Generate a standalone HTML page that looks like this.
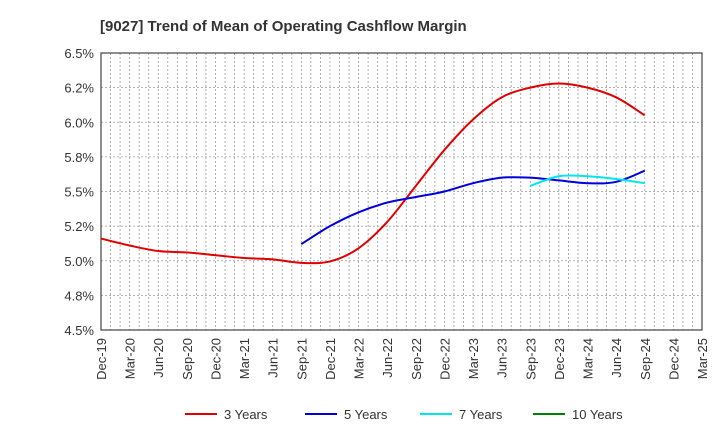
<!DOCTYPE html>
<html><head><meta charset="utf-8"><style>
body{margin:0;background:#fff;font-family:"Liberation Sans",Arial,sans-serif}
svg text{font-family:"Liberation Sans",Arial,sans-serif}
</style></head><body>
<svg id="chart" width="720" height="440" xmlns="http://www.w3.org/2000/svg">
<text x="100" y="31" font-size="15" font-weight="bold" fill="#333">[9027]  Trend of Mean of Operating Cashflow Margin</text>
<g id="grid"></g><g id="axes"></g><g id="series"></g><g id="legend"></g>
</svg>
<script>
const xLabels=["Dec-19","Mar-20","Jun-20","Sep-20","Dec-20","Mar-21","Jun-21","Sep-21","Dec-21","Mar-22","Jun-22","Sep-22","Dec-22","Mar-23","Jun-23","Sep-23","Dec-23","Mar-24","Jun-24","Sep-24","Dec-24","Mar-25"];
const yTicks=[4.5,4.75,5.0,5.25,5.5,5.75,6.0,6.25,6.5];
const yTickLabels=["4.5%","4.8%","5.0%","5.2%","5.5%","5.8%","6.0%","6.2%","6.5%"];
const seriesNames=["3 Years","5 Years","7 Years","10 Years"];
const seriesColors=["#e00000","#0000dd","#00e5ee","#008000"];
const startQ=[0,7,15,0];
const y3=[5.16,5.11,5.07,5.06,5.04,5.02,5.01,4.985,4.995,5.09,5.28,5.54,5.80,6.02,6.18,6.25,6.28,6.25,6.18,6.05];
const y5=[5.12,5.25,5.35,5.42,5.46,5.50,5.56,5.60,5.60,5.58,5.56,5.57,5.65];
const y7=[5.54,5.61,5.61,5.59,5.56];
const y10=[];
const L=101,R=702,T=53,B=330;
const nQ=xLabels.length-1;
const xs=q=>L+(R-L)*q/nQ;
const ys=v=>B-(v-4.5)/2*(B-T);
const NS="http://www.w3.org/2000/svg";
function mk(t,a,p){const e=document.createElementNS(NS,t);for(const k in a)e.setAttribute(k,a[k]);p.appendChild(e);return e;}
const grid=document.getElementById('grid'),axes=document.getElementById('axes'),ser=document.getElementById('series'),leg=document.getElementById('legend');
for(let m=1;m<nQ*3;m++){const x=L+(R-L)*m/(nQ*3);
const g=mk('line',{x1:x,x2:x,y1:T,y2:B,stroke:'#999','stroke-dasharray':'2,2','stroke-width':0.8},grid);

}
yTicks.forEach((v,i)=>{const y=ys(v);
if(i>0&&i<yTicks.length-1){const g=mk('line',{x1:L,x2:R,y1:y,y2:y,stroke:'#999','stroke-dasharray':'2,2','stroke-width':0.8},grid);

}
const t=mk('text',{x:L-7,y:y+5,'text-anchor':'end','font-size':13,fill:'#333'},axes);t.textContent=yTickLabels[i];

});
xLabels.forEach((s,q)=>{const x=xs(q);const t=mk('text',{transform:`translate(${x+5},${B+8}) rotate(-90)`,'text-anchor':'end','font-size':13,fill:'#333'},axes);t.textContent=s;

});
const fr=mk('rect',{x:L,y:T,width:R-L,height:B-T,fill:'none',stroke:'#444','stroke-width':1.2},axes);


function path(pts){let d=`M${pts[0][0]},${pts[0][1]}`;for(let i=0;i<pts.length-1;i++){const p0=pts[i-1]||pts[i],p1=pts[i],p2=pts[i+1],p3=pts[i+2]||p2;
d+=` C${p1[0]+(p2[0]-p0[0])/6},${p1[1]+(p2[1]-p0[1])/6} ${p2[0]-(p3[0]-p1[0])/6},${p2[1]-(p3[1]-p1[1])/6} ${p2[0]},${p2[1]}`;}return d;}
[y3,y5,y7,y10].forEach((arr,si)=>{if(arr.length<2)return;const pts=arr.map((v,i)=>[xs(startQ[si]+i),ys(v)]);
const p=mk('path',{d:path(pts),fill:'none',stroke:seriesColors[si],'stroke-width':2},ser);

});
const lx=[185,305,420,533];
seriesNames.forEach((n,i)=>{const g=mk('g',{},leg);


mk('line',{x1:lx[i],x2:lx[i]+32,y1:414,y2:414,stroke:seriesColors[i],'stroke-width':2},g);
const t=mk('text',{x:lx[i]+39,y:419,'font-size':13,fill:'#333'},g);t.textContent=n;});
</script>
</body></html>
